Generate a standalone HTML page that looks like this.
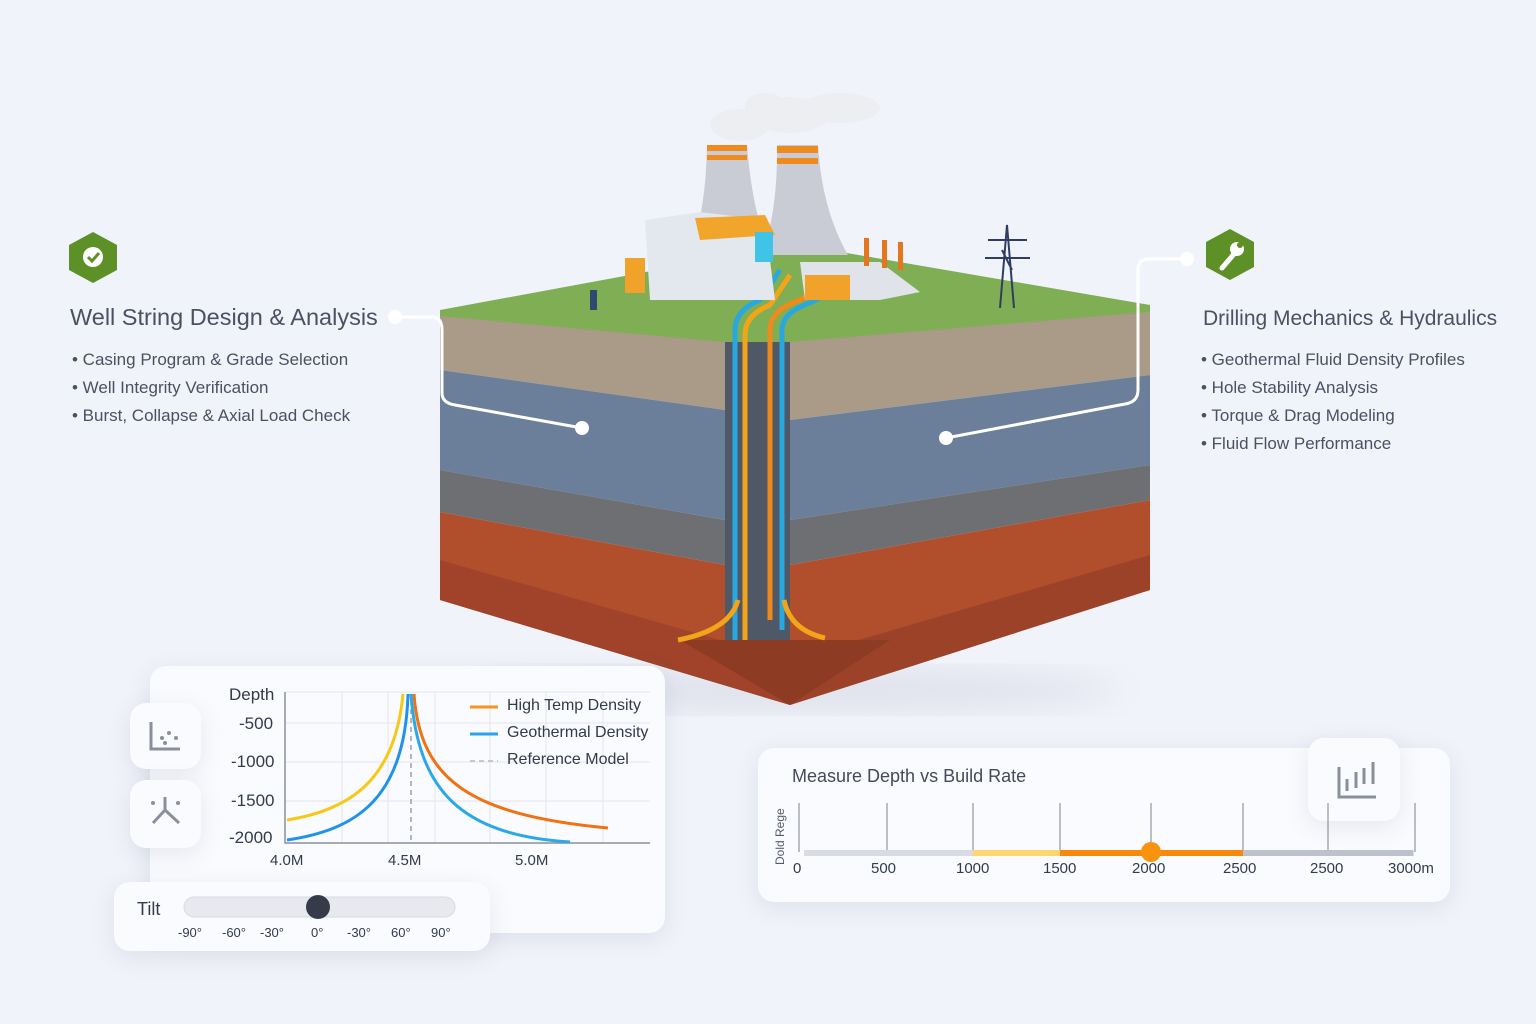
<!DOCTYPE html>
<html><head><meta charset="utf-8"><style>
body{margin:0;width:1536px;height:1024px;background:#f1f3fa;font-family:"Liberation Sans",sans-serif;overflow:hidden;position:relative}
.t{position:absolute;color:#4a5160;white-space:nowrap}
.card{position:absolute;background:#fafbfe;border-radius:16px;box-shadow:0 6px 24px rgba(80,90,130,.12)}
.tl{position:absolute;top:925px;font-size:13px;color:#333a48}
</style></head><body>
<svg width="1536" height="1024" style="position:absolute;left:0;top:0">
<defs>
<filter id="sh"><feGaussianBlur stdDeviation="16"/></filter>
</defs>
<ellipse cx="800" cy="690" rx="320" ry="22" fill="#dfe2ec" filter="url(#sh)"/>
<polygon points="440,310 725,340 725,410 440,370" fill="#a99b88"/>
<polygon points="440,370 725,410 725,520 440,470" fill="#6b7e9a"/>
<polygon points="440,470 725,520 725,565 440,512" fill="#6e6f73"/>
<polygon points="440,512 725,565 790,705 440,600" fill="#b14f2d"/>
<polygon points="440,560 790,660 790,705 440,600" fill="#a0432a"/>
<polygon points="790,340 1150,305 1150,375 790,420" fill="#a99b88"/>
<polygon points="790,420 1150,375 1150,465 790,520" fill="#6b7e9a"/>
<polygon points="790,520 1150,465 1150,500 790,565" fill="#6e6f73"/>
<polygon points="790,565 1150,500 1150,590 790,705" fill="#b14f2d"/>
<polygon points="790,660 1150,555 1150,590 790,705" fill="#9c4228"/>
<polygon points="725,340 790,340 790,640 725,640" fill="#4f5866"/>
<polygon points="680,640 890,640 790,705" fill="#8e3b24"/>
<polygon points="440,310 700,262 800,245 1150,305 1150,312 790,342 725,342 440,316" fill="#7fae55"/>
<g fill="none" stroke-width="5">
<path d="M735,640 V330 Q735,310 760,300 L780,270" stroke="#29a8e0"/>
<path d="M745,640 V335 Q745,315 770,305 L790,275" stroke="#f3a51a"/>
<path d="M770,620 V330 Q770,310 800,300 L850,270" stroke="#f08a1a"/>
<path d="M782,630 V330 Q782,312 812,302 L870,272" stroke="#29a8e0"/>
<path d="M678,640 Q730,630 738,600" stroke="#f3a51a"/>
<path d="M825,638 Q790,630 784,600" stroke="#f3a51a"/>
</g>
<path d="M707,145 L747,145 Q752,210 770,255 L690,255 Q706,210 707,145Z" fill="#c9ccd4"/>
<rect x="707" y="145" width="40" height="6" fill="#ef8a1f"/><rect x="707" y="155" width="40" height="5" fill="#ef8a1f"/>
<path d="M777,145 L818,145 Q822,210 848,255 L762,255 Q778,210 777,145Z" fill="#c9ccd4"/>
<rect x="777" y="146" width="41" height="7" fill="#ef8a1f"/><rect x="777" y="158" width="41" height="6" fill="#ef8a1f"/>
<g fill="#eceef2"><ellipse cx="740" cy="125" rx="30" ry="16"/><ellipse cx="790" cy="115" rx="40" ry="18"/><ellipse cx="840" cy="108" rx="40" ry="15"/><ellipse cx="765" cy="105" rx="20" ry="12"/></g>
<polygon points="645,220 700,212 765,220 775,300 650,300" fill="#e3e7ee"/>
<polygon points="695,218 765,215 775,235 700,240" fill="#f2a52b"/>
<rect x="625" y="258" width="20" height="35" fill="#f0a22a"/>
<rect x="755" y="232" width="18" height="30" fill="#3fc4e8"/>
<polygon points="800,262 880,262 920,292 880,300 805,300" fill="#e0e4ea"/>
<rect x="805" y="275" width="45" height="25" fill="#f0a22a"/>
<g fill="#e4761e"><rect x="864" y="238" width="5" height="28"/><rect x="882" y="240" width="5" height="28"/><rect x="898" y="242" width="5" height="28"/></g>
<rect x="590" y="290" width="7" height="20" fill="#2f4a70"/>
<g stroke="#2f3e60" stroke-width="2" fill="none"><path d="M1000,308 L1007,225 L1014,308 M988,240 H1027 M985,258 H1030 M1002,250 L1012,270"/></g>
<g fill="none" stroke="#fff" stroke-width="3"><path d="M395,317 H432 Q442,317 442,330 V393 Q442,403 455,405 L582,428"/><path d="M1187,259 H1148 Q1138,259 1138,270 V390 Q1138,402 1125,404 L946,438"/></g>
<g fill="#fff"><circle cx="395" cy="317" r="7"/><circle cx="582" cy="428" r="7"/><circle cx="1187" cy="259" r="7"/><circle cx="946" cy="438" r="7"/></g>
<polygon points="93,232 117,245 117,270 93,283 69,270 69,245" fill="#5e9028"/>
<circle cx="93" cy="257" r="10" fill="#fff"/><path d="M88,257 l4,4 l7,-8" stroke="#5e9028" stroke-width="3" fill="none"/>
<polygon points="1230,229 1254,242 1254,267 1230,280 1206,267 1206,242" fill="#5e9028"/>
<path d="M1222,268 L1234,254" stroke="#fff" stroke-width="5" stroke-linecap="round"/><circle cx="1237" cy="249" r="7" fill="#fff"/><circle cx="1240" cy="245" r="3" fill="#5e9028"/>
</svg>

<div class="t" style="left:70px;top:304px;font-size:23.5px">Well String Design &amp; Analysis</div>
<div class="t" style="left:72px;top:346px;font-size:17px;line-height:28px">• Casing Program &amp; Grade Selection<br>• Well Integrity Verification<br>• Burst, Collapse &amp; Axial Load Check</div>
<div class="t" style="left:1203px;top:307px;font-size:21px">Drilling Mechanics &amp; Hydraulics</div>
<div class="t" style="left:1201px;top:346px;font-size:17px;line-height:28px">• Geothermal Fluid Density Profiles<br>• Hole Stability Analysis<br>• Torque &amp; Drag Modeling<br>• Fluid Flow Performance</div>

<div class="card" style="left:150px;top:666px;width:515px;height:267px"></div>
<div class="card" style="left:130px;top:703px;width:71px;height:66px"></div>
<div class="card" style="left:130px;top:780px;width:71px;height:68px"></div>
<div class="card" style="left:758px;top:748px;width:692px;height:154px"></div>
<div class="card" style="left:1308px;top:738px;width:92px;height:83px"></div>
<div class="card" style="left:114px;top:882px;width:376px;height:69px"></div>

<svg width="1536" height="1024" style="position:absolute;left:0;top:0">
<g stroke="#e3e6ee" stroke-width="1"><path d="M285,692 H650 M285,723 H650 M285,762 H650 M285,801 H650 M342,692 V843 M388,692 V843 M435,692 V843 M490,692 V843 M546,692 V843 M603,692 V843"/></g>
<path d="M285,692 V843 H650" stroke="#8a8f9c" stroke-width="1.5" fill="none"/>
<path d="M411,700 V843" stroke="#9aa0ad" stroke-dasharray="5,4" stroke-width="1.5"/>
<g fill="none" stroke-width="3">
<path d="M287,820 C350,810 395,780 403,694" stroke="#f7c916"/>
<path d="M287,840 C355,830 405,800 408,694" stroke="#1f93ea"/>
<path d="M414,694 C420,780 470,815 608,828" stroke="#f07212"/>
<path d="M411,694 C418,790 460,835 570,842" stroke="#2aa8e8"/>
</g>
<path d="M470,707 H498" stroke="#f7931e" stroke-width="3"/><path d="M470,734 H498" stroke="#29a3ea" stroke-width="3"/><path d="M470,761 H498" stroke="#b5bac6" stroke-width="1.5" stroke-dasharray="5,4"/>
<g stroke="#8a8f9c" stroke-width="3" fill="none"><path d="M151,722 V749 H180"/><path d="M1339,767 V797 H1376"/><path d="M1347,791 V779 M1356,788 V772 M1364,784 V768 M1373,784 V762"/><path d="M165,797 V810 L153,823 M165,810 L179,823"/></g>
<g fill="#8a8f9c"><circle cx="162" cy="738" r="2"/><circle cx="169" cy="733" r="2"/><circle cx="176" cy="738" r="2"/><circle cx="165" cy="743" r="2"/><circle cx="153" cy="803" r="2"/><circle cx="178" cy="803" r="2"/></g>
<rect x="184" y="897" width="271" height="20" rx="10" fill="#e7e9ef" stroke="#d7dae2"/>
<circle cx="318" cy="907" r="12" fill="#353b48"/>
<g stroke="#7a808e" stroke-width="1"><path d="M799,803 V852 M887,803 V852 M973,803 V852 M1060,803 V852 M1151,803 V852 M1243,803 V852 M1328,803 V852 M1415,803 V852"/></g>
<rect x="804" y="850" width="610" height="6" fill="#d8dbe3"/>
<rect x="973" y="850" width="87" height="6" fill="#fcd670"/>
<rect x="1060" y="850" width="183" height="6" fill="#f7890c"/>
<rect x="1243" y="850" width="170" height="6" fill="#bcc1cc"/>
<circle cx="1151" cy="852" r="10" fill="#f7930e"/>
<text x="784" y="865" transform="rotate(-90 784 865)" font-size="12" fill="#555b68" font-family="Liberation Sans">Dold Rege</text>
</svg>
<div class="t" style="left:229px;top:685px;font-size:17px;color:#333a48">Depth</div>
<div class="t" style="left:239px;top:714px;font-size:17px;color:#333a48">-500</div>
<div class="t" style="left:231px;top:752px;font-size:17px;color:#333a48">-1000</div>
<div class="t" style="left:231px;top:791px;font-size:17px;color:#333a48">-1500</div>
<div class="t" style="left:229px;top:828px;font-size:17px;color:#333a48">-2000</div>
<div class="t" style="left:270px;top:852px;font-size:15px;color:#333a48">4.0M</div>
<div class="t" style="left:388px;top:852px;font-size:15px;color:#333a48">4.5M</div>
<div class="t" style="left:515px;top:852px;font-size:15px;color:#333a48">5.0M</div>
<div class="t" style="left:507px;top:697px;font-size:16px;color:#333a48">High Temp Density</div>
<div class="t" style="left:507px;top:724px;font-size:16px;color:#333a48">Geothermal Density</div>
<div class="t" style="left:507px;top:751px;font-size:16px;color:#333a48">Reference Model</div>
<div class="t" style="left:137px;top:899px;font-size:18px;color:#333a48">Tilt</div>
<div class="tl" style="left:178px">-90°</div><div class="tl" style="left:222px">-60°</div><div class="tl" style="left:260px">-30°</div><div class="tl" style="left:311px">0°</div><div class="tl" style="left:347px">-30°</div><div class="tl" style="left:391px">60°</div><div class="tl" style="left:431px">90°</div>
<div class="t" style="left:792px;top:766px;font-size:18px;color:#444a58">Measure Depth vs Build Rate</div>
<div class="t" style="left:793px;top:860px;font-size:15px;color:#333a48">0</div>
<div class="t" style="left:871px;top:860px;font-size:15px;color:#333a48">500</div>
<div class="t" style="left:956px;top:860px;font-size:15px;color:#333a48">1000</div>
<div class="t" style="left:1043px;top:860px;font-size:15px;color:#333a48">1500</div>
<div class="t" style="left:1132px;top:860px;font-size:15px;color:#333a48">2000</div>
<div class="t" style="left:1223px;top:860px;font-size:15px;color:#333a48">2500</div>
<div class="t" style="left:1310px;top:860px;font-size:15px;color:#333a48">2500</div>
<div class="t" style="left:1388px;top:860px;font-size:15px;color:#333a48">3000m</div>
</body></html>
